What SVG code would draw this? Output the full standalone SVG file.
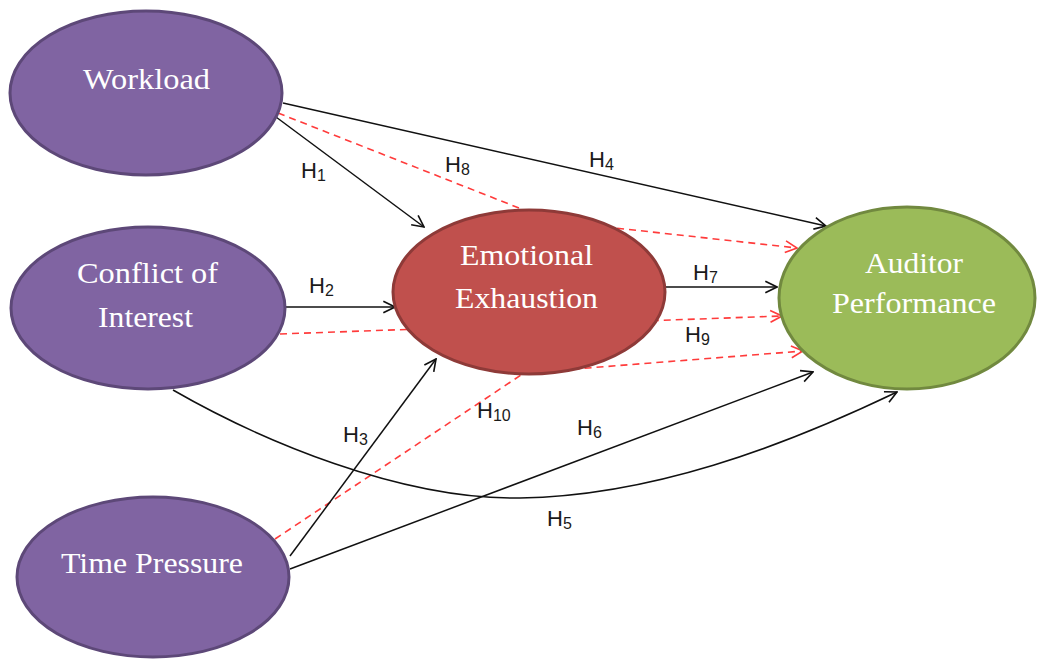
<svg xmlns="http://www.w3.org/2000/svg" width="1038" height="660" viewBox="0 0 1038 660">
<defs>
<style>
.c{fill:none;stroke:#111;stroke-width:1.5}
.d{fill:none;stroke:#ff3b3b;stroke-width:1.6;stroke-dasharray:7 5}
.n{stroke-width:3}
.purple{fill:#8064a2;stroke:#5d4878}
.red{fill:#c0504d;stroke:#8e3a38}
.green{fill:#9bbb59;stroke:#71893f}
.t{font-family:"Liberation Serif","Times New Roman",serif;font-size:30px;fill:#fff;text-anchor:middle}
.h{font-family:"Liberation Sans",Arial,sans-serif;font-size:22px;fill:#1a1a1a}
.s{font-size:16px}
</style>
<marker id="ab" viewBox="0 0 12 12" refX="11" refY="6" markerWidth="14" markerHeight="14" markerUnits="userSpaceOnUse" orient="auto">
<path d="M1,1 L11,6 L1,11" fill="none" stroke="#111" stroke-width="1.4"/>
</marker>
<marker id="ar" viewBox="0 0 12 12" refX="11" refY="6" markerWidth="14" markerHeight="14" markerUnits="userSpaceOnUse" orient="auto">
<path d="M1,1 L11,6 L1,11" fill="none" stroke="#ff3b3b" stroke-width="1.4"/>
</marker>
</defs>
<rect width="1038" height="660" fill="#fff"/>
<g id="connectors">
<path class="c" d="M283,103 L826,226" marker-end="url(#ab)"/>
<path class="c" d="M276,117 L424,227" marker-end="url(#ab)"/>
<path class="d" d="M278,113 L552,221 L797,248" marker-end="url(#ar)"/>
<path class="c" d="M286,307 L395,307" marker-end="url(#ab)"/>
<path class="d" d="M280,334 L782,316" marker-end="url(#ar)"/>
<path class="c" d="M665,287 L777,287" marker-end="url(#ab)"/>
<path class="d" d="M275,539 L524,373 L803,351" marker-end="url(#ar)"/>
<path class="c" d="M290,556 L436,359" marker-end="url(#ab)"/>
<path class="c" d="M290,569 L813,372" marker-end="url(#ab)"/>
<path class="c" d="M173,390 C260,440 400,500 520,498 C650,496 780,448 897,392" marker-end="url(#ab)"/>
</g>
<g id="labels">
<text class="h" x="301" y="178">H<tspan class="s" dy="3">1</tspan></text>
<text class="h" x="445" y="172">H<tspan class="s" dy="3">8</tspan></text>
<text class="h" x="589" y="167">H<tspan class="s" dy="3">4</tspan></text>
<text class="h" x="309" y="293">H<tspan class="s" dy="3">2</tspan></text>
<text class="h" x="693" y="280">H<tspan class="s" dy="3">7</tspan></text>
<text class="h" x="685" y="342">H<tspan class="s" dy="3">9</tspan></text>
<text class="h" x="343" y="442">H<tspan class="s" dy="3">3</tspan></text>
<text class="h" x="477" y="418">H<tspan class="s" dy="3">10</tspan></text>
<text class="h" x="577" y="435">H<tspan class="s" dy="3">6</tspan></text>
<text class="h" x="547" y="526">H<tspan class="s" dy="3">5</tspan></text>
</g>
<g id="workload">
<ellipse class="n purple" cx="146" cy="93" rx="136" ry="82"/>
<text class="t" x="146.5" y="89" textLength="127" lengthAdjust="spacingAndGlyphs">Workload</text>
</g>
<g id="conflict">
<ellipse class="n purple" cx="148" cy="308" rx="137" ry="81"/>
<text class="t" x="147.5" y="283" textLength="141" lengthAdjust="spacingAndGlyphs">Conflict of</text>
<text class="t" x="145.5" y="327" textLength="95" lengthAdjust="spacingAndGlyphs">Interest</text>
</g>
<g id="time">
<ellipse class="n purple" cx="153" cy="577" rx="136" ry="80"/>
<text class="t" x="152" y="573" textLength="182" lengthAdjust="spacingAndGlyphs">Time Pressure</text>
</g>
<g id="emotional">
<ellipse class="n red" cx="529" cy="292" rx="136" ry="82"/>
<text class="t" x="526.5" y="265" textLength="133" lengthAdjust="spacingAndGlyphs">Emotional</text>
<text class="t" x="526.5" y="308" textLength="143" lengthAdjust="spacingAndGlyphs">Exhaustion</text>
</g>
<g id="auditor">
<ellipse class="n green" cx="907" cy="298" rx="128" ry="91"/>
<text class="t" x="914" y="273" textLength="98" lengthAdjust="spacingAndGlyphs">Auditor</text>
<text class="t" x="914" y="313" textLength="164" lengthAdjust="spacingAndGlyphs">Performance</text>
</g>
</svg>
